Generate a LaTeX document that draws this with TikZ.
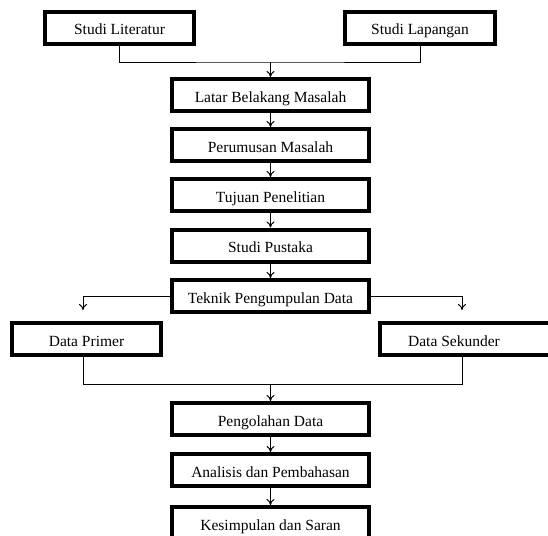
\documentclass[tikz,border=0pt]{standalone}
\usepackage{fontspec}
\setmainfont{Liberation Serif}
\usetikzlibrary{arrows.meta}
\begin{document}
\begin{tikzpicture}[x=1pt,y=-1pt,>={To[length=6pt,width=8pt]}]
		\tikzset{kotak/.style = {shape=rectangle,draw,line width=4pt, fill=white, minimum width=197pt, minimum height=32pt, inner sep=0pt, text height=16pt, text depth=2pt, font=\fontsize{15.5}{18}\selectfont}}
		\tikzset{garis/.style = {line width=1pt}}

		\clip (0,0) rectangle (548,535);

		\node[kotak, minimum width=149pt] (lit) at (119.5,28) {Studi Literatur};
		\node[kotak, minimum width=150pt] (lap) at (420,28) {Studi Lapangan};
		\node[kotak] (latar) at (270.5,95) {Latar Belakang Masalah};
		\node[kotak] (rumus) at (270.5,145) {Perumusan Masalah};
		\node[kotak] (tujuan) at (270.5,195) {Tujuan Penelitian};
		\node[kotak] (pustaka) at (270.5,245.5) {Studi Pustaka};
		\node[kotak] (teknik) at (270.5,296) {Teknik Pengumpulan Data};
		\node[kotak, minimum width=149pt] (primer) at (86.5,339) {Data Primer};
		\node[kotak, minimum width=178pt, label={[xshift=-15pt,text height=16pt, text depth=2pt,font=\fontsize{15.5}{18}\selectfont]center:Data Sekunder}] (sekunder) at (469,339) {};
		\node[kotak] (olah) at (270.5,419) {Pengolahan Data};
		\node[kotak] (analisis) at (270.5,470) {Analisis dan Pembahasan};
		\node[kotak] (simpul) at (270.5,523) {Kesimpulan dan Saran};

		\coordinate (gabung1) at (270.5,62);
		\coordinate (panahkiri) at (83,310);
		\coordinate (panahkanan) at (462,310);
		\coordinate (bawahkiri) at (83,384);
		\coordinate (bawahkanan) at (462,384);
		\coordinate (gabung2) at (270.5,384);

		\draw[garis] (lit.south) |- (gabung1) -| (lap.south);
		\draw[garis,->] (gabung1) -- (latar.north);
		\draw[garis,->] (latar) -- (rumus);
		\draw[garis,->] (rumus) -- (tujuan);
		\draw[garis,->] (tujuan) -- (pustaka);
		\draw[garis,->] (pustaka) -- (teknik);

		%cabang
		\draw[garis,->] (teknik.west) -| (panahkiri);
		\draw[garis,->] (teknik.east) -| (panahkanan);

		\draw[garis] (primer.south -| bawahkiri) -- (bawahkiri) -- (bawahkanan) -- (sekunder.south -| bawahkanan);
		\draw[garis,->] (gabung2) -- (olah.north);
		\draw[garis,->] (olah) -- (analisis);
		\draw[garis,->] (analisis) -- (simpul);

	\end{tikzpicture}
\end{document}
